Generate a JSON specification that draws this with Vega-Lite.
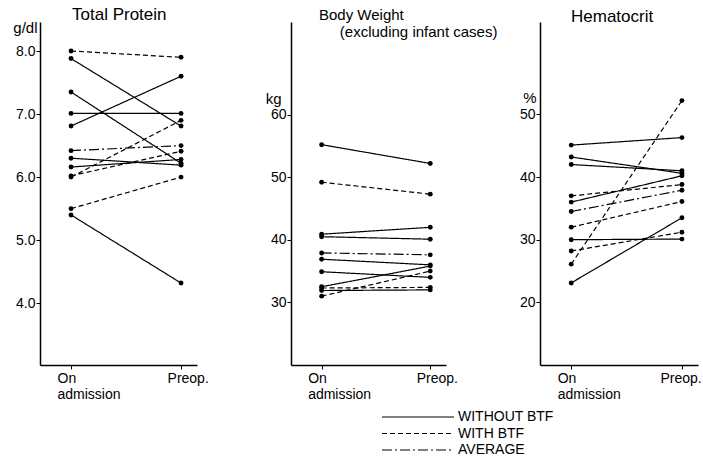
{
  "$schema": "https://vega.github.io/schema/vega-lite/v6.json",
  "autosize": {"type": "pad"},
  "padding": {"left": 12, "top": 6, "right": 0, "bottom": 0},
  "background": "white",
  "bounds": "flush",
  "spacing": 94,
  "config": {
    "view": {"stroke": null},
    "font": "Liberation Sans",
    "axis": {
      "domainColor": "black", "domainWidth": 1.5, "tickColor": "black", "tickWidth": 1,
      "tickSize": 4, "labelColor": "black", "labelFont": "Liberation Sans", "labelFontSize": 14,
      "grid": false, "titleColor": "black", "titleFont": "Liberation Sans", "titleFontSize": 15,
      "titleFontWeight": "normal"
    },
    "title": {"font": "Liberation Sans", "fontSize": 17, "fontWeight": "normal", "color": "black", "anchor": "start", "frame": "group",
              "subtitleFont": "Liberation Sans", "subtitleFontSize": 15, "subtitleColor": "black", "subtitlePadding": 2},
    "legend": {"labelFont": "Liberation Sans", "labelFontSize": 14, "labelColor": "black"}
  },
  "resolve": {"scale": {"strokeDash": "independent", "x": "independent", "y": "independent"}, "legend": {"strokeDash": "independent"}},
  "hconcat": [
    {
      "width": 157, "height": 343,
      "title": {"text": "Total Protein", "dx": 32, "offset": -4},
      "data": {"values": [
        {"id": 1, "type": "WITH BTF", "stage": 0, "value": 8.0}, {"id": 1, "type": "WITH BTF", "stage": 1, "value": 7.9},
        {"id": 2, "type": "WITHOUT BTF", "stage": 0, "value": 7.88}, {"id": 2, "type": "WITHOUT BTF", "stage": 1, "value": 6.81},
        {"id": 3, "type": "WITHOUT BTF", "stage": 0, "value": 7.35}, {"id": 3, "type": "WITHOUT BTF", "stage": 1, "value": 6.22},
        {"id": 4, "type": "WITHOUT BTF", "stage": 0, "value": 7.01}, {"id": 4, "type": "WITHOUT BTF", "stage": 1, "value": 7.01},
        {"id": 5, "type": "WITHOUT BTF", "stage": 0, "value": 6.81}, {"id": 5, "type": "WITHOUT BTF", "stage": 1, "value": 7.6},
        {"id": 6, "type": "AVERAGE", "stage": 0, "value": 6.42}, {"id": 6, "type": "AVERAGE", "stage": 1, "value": 6.5},
        {"id": 7, "type": "WITHOUT BTF", "stage": 0, "value": 6.3}, {"id": 7, "type": "WITHOUT BTF", "stage": 1, "value": 6.19},
        {"id": 8, "type": "WITHOUT BTF", "stage": 0, "value": 6.16}, {"id": 8, "type": "WITHOUT BTF", "stage": 1, "value": 6.28},
        {"id": 9, "type": "WITH BTF", "stage": 0, "value": 6.0}, {"id": 9, "type": "WITH BTF", "stage": 1, "value": 6.9},
        {"id": 10, "type": "WITH BTF", "stage": 0, "value": 6.02}, {"id": 10, "type": "WITH BTF", "stage": 1, "value": 6.41},
        {"id": 11, "type": "WITH BTF", "stage": 0, "value": 5.5}, {"id": 11, "type": "WITH BTF", "stage": 1, "value": 6.0},
        {"id": 12, "type": "WITHOUT BTF", "stage": 0, "value": 5.4}, {"id": 12, "type": "WITHOUT BTF", "stage": 1, "value": 4.32}
      ]},
      "encoding": {
        "x": {"field": "stage", "type": "quantitative", "scale": {"domain": [-0.282, 1.145], "nice": false, "zero": false},
              "axis": {"values": [0, 1], "title": null, "labelExpr": "datum.value == 0 ? ['On', 'admission'] : 'Preop.'", "labelAlign": "left", "labelOffset": -14, "labelPadding": 2, "labelLineHeight": 16}},
        "y": {"field": "value", "type": "quantitative", "scale": {"domain": [3.02, 8.46], "nice": false, "zero": false},
              "axis": {"values": [4, 5, 6, 7, 8], "format": ".1f", "title": "g/dl", "titleAngle": 0, "titleAlign": "right", "titleBaseline": "alphabetic", "titleX": -3, "titleY": 10, "labelPadding": 1}}
      },
      "layer": [
        {"mark": {"type": "line", "strokeWidth": 1.2, "color": "black"},
         "encoding": {"detail": {"field": "id"}, "strokeDash": {"field": "type", "type": "nominal", "scale": {"domain": ["WITHOUT BTF", "WITH BTF", "AVERAGE"], "range": [[1, 0], [5, 3], [10, 3, 2, 3]]}, "legend": null}}},
        {"mark": {"type": "circle", "size": 24, "color": "black", "opacity": 1}}
      ]
    },
    {
      "width": 155, "height": 343,
      "title": {"text": "Body Weight", "subtitle": "\u200b\u00a0\u00a0\u00a0\u00a0\u00a0(excluding infant cases)", "dx": 28, "fontSize": 15, "offset": -18},
      "data": {"values": [
        {"id": 1, "type": "WITHOUT BTF", "stage": 0, "value": 55.2}, {"id": 1, "type": "WITHOUT BTF", "stage": 1, "value": 52.2},
        {"id": 2, "type": "WITH BTF", "stage": 0, "value": 49.2}, {"id": 2, "type": "WITH BTF", "stage": 1, "value": 47.3},
        {"id": 3, "type": "WITHOUT BTF", "stage": 0, "value": 40.9}, {"id": 3, "type": "WITHOUT BTF", "stage": 1, "value": 42.0},
        {"id": 4, "type": "WITHOUT BTF", "stage": 0, "value": 40.5}, {"id": 4, "type": "WITHOUT BTF", "stage": 1, "value": 40.1},
        {"id": 5, "type": "AVERAGE", "stage": 0, "value": 37.9}, {"id": 5, "type": "AVERAGE", "stage": 1, "value": 37.6},
        {"id": 6, "type": "WITHOUT BTF", "stage": 0, "value": 36.9}, {"id": 6, "type": "WITHOUT BTF", "stage": 1, "value": 36.0},
        {"id": 7, "type": "WITHOUT BTF", "stage": 0, "value": 34.9}, {"id": 7, "type": "WITHOUT BTF", "stage": 1, "value": 34.0},
        {"id": 8, "type": "WITHOUT BTF", "stage": 0, "value": 32.5}, {"id": 8, "type": "WITHOUT BTF", "stage": 1, "value": 35.8},
        {"id": 9, "type": "WITH BTF", "stage": 0, "value": 32.3}, {"id": 9, "type": "WITH BTF", "stage": 1, "value": 32.4},
        {"id": 10, "type": "WITHOUT BTF", "stage": 0, "value": 31.9}, {"id": 10, "type": "WITHOUT BTF", "stage": 1, "value": 32.0},
        {"id": 11, "type": "WITH BTF", "stage": 0, "value": 31.0}, {"id": 11, "type": "WITH BTF", "stage": 1, "value": 35.0}
      ]},
      "encoding": {
        "x": {"field": "stage", "type": "quantitative", "scale": {"domain": [-0.282, 1.145], "nice": false, "zero": false},
              "axis": {"values": [0, 1], "title": null, "labelExpr": "datum.value == 0 ? ['On', 'admission'] : 'Preop.'", "labelAlign": "left", "labelOffset": -14, "labelPadding": 2, "labelLineHeight": 16}},
        "y": {"field": "value", "type": "quantitative", "scale": {"domain": [20, 74.8], "nice": false, "zero": false},
              "axis": {"values": [30, 40, 50, 60], "title": "kg", "titleAngle": 0, "titleAlign": "right", "titleBaseline": "alphabetic", "titleX": -10, "titleY": 81, "labelPadding": 1}}
      },
      "layer": [
        {"mark": {"type": "line", "strokeWidth": 1.2, "color": "black"},
         "encoding": {"detail": {"field": "id"}, "strokeDash": {"field": "type", "type": "nominal", "scale": {"domain": ["WITHOUT BTF", "WITH BTF", "AVERAGE"], "range": [[1, 0], [5, 3], [10, 3, 2, 3]]},
           "legend": {"orient": "none", "legendX": 120, "legendY": 388, "title": null, "symbolType": "M-6,0H6", "symbolSize": 144, "symbolStrokeWidth": 1.2, "symbolStrokeColor": "black", "labelOffset": 33, "rowPadding": 2.5}}}},
        {"mark": {"type": "circle", "size": 24, "color": "black", "opacity": 1}}
      ]
    },
    {
      "width": 158, "height": 343,
      "title": {"text": "Hematocrit", "dx": 31, "offset": -4},
      "data": {"values": [
        {"id": 1, "type": "WITHOUT BTF", "stage": 0, "value": 45.1}, {"id": 1, "type": "WITHOUT BTF", "stage": 1, "value": 46.3},
        {"id": 2, "type": "WITHOUT BTF", "stage": 0, "value": 43.2}, {"id": 2, "type": "WITHOUT BTF", "stage": 1, "value": 40.6},
        {"id": 3, "type": "WITHOUT BTF", "stage": 0, "value": 42.0}, {"id": 3, "type": "WITHOUT BTF", "stage": 1, "value": 41.0},
        {"id": 4, "type": "WITH BTF", "stage": 0, "value": 37.0}, {"id": 4, "type": "WITH BTF", "stage": 1, "value": 38.8},
        {"id": 5, "type": "WITHOUT BTF", "stage": 0, "value": 36.0}, {"id": 5, "type": "WITHOUT BTF", "stage": 1, "value": 40.2},
        {"id": 6, "type": "AVERAGE", "stage": 0, "value": 34.5}, {"id": 6, "type": "AVERAGE", "stage": 1, "value": 37.9},
        {"id": 7, "type": "WITH BTF", "stage": 0, "value": 32.0}, {"id": 7, "type": "WITH BTF", "stage": 1, "value": 36.1},
        {"id": 8, "type": "WITHOUT BTF", "stage": 0, "value": 30.0}, {"id": 8, "type": "WITHOUT BTF", "stage": 1, "value": 30.1},
        {"id": 9, "type": "WITH BTF", "stage": 0, "value": 28.2}, {"id": 9, "type": "WITH BTF", "stage": 1, "value": 31.2},
        {"id": 10, "type": "WITH BTF", "stage": 0, "value": 26.1}, {"id": 10, "type": "WITH BTF", "stage": 1, "value": 52.2},
        {"id": 11, "type": "WITHOUT BTF", "stage": 0, "value": 23.1}, {"id": 11, "type": "WITHOUT BTF", "stage": 1, "value": 33.5}
      ]},
      "encoding": {
        "x": {"field": "stage", "type": "quantitative", "scale": {"domain": [-0.282, 1.145], "nice": false, "zero": false},
              "axis": {"values": [0, 1], "title": null, "labelExpr": "datum.value == 0 ? ['On', 'admission'] : 'Preop.'", "labelAlign": "left",
                       "labelOffset": {"condition": {"test": "datum.value == 1", "value": -22}, "value": -14}, "labelPadding": 2, "labelLineHeight": 16}},
        "y": {"field": "value", "type": "quantitative", "scale": {"domain": [10, 64.75], "nice": false, "zero": false},
              "axis": {"values": [20, 30, 40, 50], "title": "%", "titleAngle": 0, "titleAlign": "right", "titleBaseline": "alphabetic", "titleX": -4, "titleY": 80, "labelPadding": 1}}
      },
      "layer": [
        {"mark": {"type": "line", "strokeWidth": 1.2, "color": "black"},
         "encoding": {"detail": {"field": "id"}, "strokeDash": {"field": "type", "type": "nominal", "scale": {"domain": ["WITHOUT BTF", "WITH BTF", "AVERAGE"], "range": [[1, 0], [5, 3], [10, 3, 2, 3]]}, "legend": null}}},
        {"mark": {"type": "circle", "size": 24, "color": "black", "opacity": 1}}
      ]
    }
  ]
}
